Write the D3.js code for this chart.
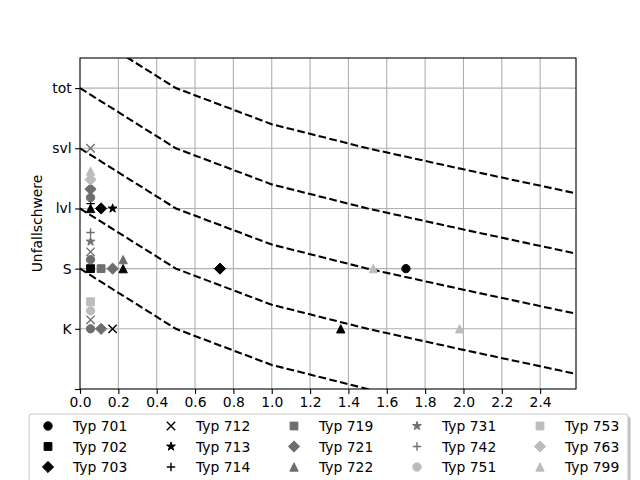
<!DOCTYPE html>
<html>
<head>
<meta charset="utf-8">
<script src="https://cdn.jsdelivr.net/npm/d3@7"></script>
<style>
  html, body { margin: 0; padding: 0; background: #fff; }
  svg { display: block; }
  text { font-family: "DejaVu Sans", sans-serif; }
</style>
</head>
<body>
<svg id="chart" width="640" height="480"></svg>
<script>
// ---------- data ----------
const yTickLabels = ["", "K", "S", "lvl", "svl", "tot"];
const xTicks = [0, 0.2, 0.4, 0.6, 0.8, 1.0, 1.2, 1.4, 1.6, 1.8, 2.0, 2.2, 2.4];

// dashed boundary curves: start level and common drop profile
const curveStarts = [6, 5, 4, 3, 2];
const curveX    = [0, 0.5, 1.0, 1.5, 2.0, 2.5, 3.0];
const curveDrop = [0, 1.0, 1.6, 2.0, 2.35, 2.69, 3.03];

// series (name, marker, shade) and points
const seriesNames   = ["Typ 701","Typ 702","Typ 703","Typ 711","Typ 712","Typ 713","Typ 714",
                       "Typ 715","Typ 719","Typ 721","Typ 722","Typ 723","Typ 731","Typ 742",
                       "Typ 751","Typ 753","Typ 763","Typ 799"];
const seriesMarkers = ["o","s","D","^","x","*","+",
                       "o","s","D","^","x","*","+",
                       "o","s","D","^"];
const seriesShades  = ["k","k","k","k","k","k","k",
                       "g","g","g","g","g","g","g",
                       "l","l","l","l"];
const typ701 = [[1.70, 2]];
const typ702 = [[0.055, 2]];
const typ703 = [[0.11, 3], [0.73, 2]];
const typ711 = [[0.055, 3], [0.225, 2], [1.36, 1]];
const typ712 = [[0.17, 1]];
const typ713 = [[0.17, 3]];
const typ714 = [[0.055, 3.08]];
const typ715 = [[0.055, 3.18], [0.055, 2.15], [0.055, 1]];
const typ719 = [[0.11, 2]];
const typ721 = [[0.055, 3.32], [0.17, 2], [0.11, 1]];
const typ722 = [[0.225, 2.15]];
const typ723 = [[0.055, 4], [0.055, 2.28], [0.055, 1.15]];
const typ731 = [[0.055, 2.45]];
const typ742 = [[0.055, 2.6]];
const typ751 = [[0.055, 1.3]];
const typ753 = [[0.055, 1.45]];
const typ763 = [[0.055, 3.48]];
const typ799 = [[0.055, 3.62], [1.53, 2], [1.98, 1]];
const seriesPoints = [typ701, typ702, typ703, typ711, typ712, typ713, typ714,
                      typ715, typ719, typ721, typ722, typ723, typ731, typ742,
                      typ751, typ753, typ763, typ799];

// ---------- layout ----------
const shadeColor = {k: "#000000", g: "#6e6e6e", l: "#bcbcbc"};
const L = 80, R = 576, T = 58, B = 389;
const svg = d3.select("#chart");
const x = d3.scaleLinear().domain([0, 2.587]).range([L, R]);
const y = d3.scaleLinear().domain([0, 5.5]).range([B, T]);

// grid
const grid = svg.append("g");
grid.selectAll("line.vx").data(xTicks.slice(1)).enter().append("line")
  .attr("x1", d => x(d)).attr("x2", d => x(d)).attr("y1", T).attr("y2", B)
  .attr("stroke", "#b0b0b0").attr("stroke-width", 1.1);
grid.selectAll("line.hy").data(d3.range(1, 6)).enter().append("line")
  .attr("x1", L).attr("x2", R).attr("y1", d => y(d)).attr("y2", d => y(d))
  .attr("stroke", "#b0b0b0").attr("stroke-width", 1.1);

// clip
svg.append("defs").append("clipPath").attr("id", "clip")
  .append("rect").attr("x", L).attr("y", T).attr("width", R - L).attr("height", B - T);

// dashed curves
const lineGen = d3.line().x(d => x(d[0])).y(d => y(d[1]));
svg.append("g").attr("clip-path", "url(#clip)")
  .selectAll("path").data(curveStarts).enter().append("path")
  .attr("d", s => lineGen(curveX.map((cx, i) => [cx, s - curveDrop[i]])))
  .attr("fill", "none").attr("stroke", "#000").attr("stroke-width", 2.08)
  .attr("stroke-dasharray", "7.7,3.3");

// marker paths
const ms = 8.33;
function markerPath(m) {
  const h = ms / 2;
  switch (m) {
    case "o": return d3.symbol(d3.symbolCircle, Math.PI * h * h)();
    case "s": { const a = 3.9; return `M${-a},${-a}L${a},${-a}L${a},${a}L${-a},${a}Z`; }
    case "D": { const a = h * Math.SQRT2 * 0.95; return `M0,${-a}L${a},0L0,${a}L${-a},0Z`; }
    case "^": return `M0,${-h}L${h},${h}L${-h},${h}Z`;
    case "x": return `M${-h},${-h}L${h},${h}M${-h},${h}L${h},${-h}`;
    case "+": return `M${-h},0L${h},0M0,${-h}L0,${h}`;
    case "*": {
      let p = "";
      const ro = h * 1.1, ri = ro * 0.382;
      for (let i = 0; i < 10; i++) {
        const r = i % 2 ? ri : ro;
        const ang = -Math.PI / 2 + i * Math.PI / 5;
        p += (i ? "L" : "M") + (r * Math.cos(ang)).toFixed(2) + "," + (r * Math.sin(ang)).toFixed(2);
      }
      return p + "Z";
    }
  }
}
function styleMarker(sel, m, c) {
  if (m === "x" || m === "+") {
    sel.attr("fill", "none").attr("stroke", c).attr("stroke-width", 1.4);
  } else {
    sel.attr("fill", c).attr("stroke", c).attr("stroke-width", 1);
  }
}

// points
const pts = svg.append("g").attr("clip-path", "url(#clip)");
seriesNames.forEach((name, i) => {
  const m = seriesMarkers[i], c = shadeColor[seriesShades[i]];
  const sel = pts.append("g").selectAll("path").data(seriesPoints[i]).enter().append("path")
    .attr("d", markerPath(m))
    .attr("transform", d => `translate(${x(d[0])},${y(d[1])})`);
  styleMarker(sel, m, c);
});

// axes
const xAxis = svg.append("g").attr("transform", `translate(0,${B})`)
  .call(d3.axisBottom(x).tickValues(xTicks).tickFormat(d3.format(".1f")).tickSizeOuter(0).tickSize(4.9).tickPadding(3.5));
const yAxis = svg.append("g").attr("transform", `translate(${L},0)`)
  .call(d3.axisLeft(y).tickValues(d3.range(0, 6)).tickFormat(d => yTickLabels[d]).tickSizeOuter(0).tickSize(4.9).tickPadding(3.5));
[xAxis, yAxis].forEach(a => {
  a.select(".domain").remove();
  a.selectAll(".tick line").attr("stroke", "#000").attr("stroke-width", 1.1);
  a.selectAll(".tick text").attr("font-size", "13.9px").attr("fill", "#000")
    .attr("font-family", "DejaVu Sans, sans-serif");
});
// frame
svg.append("rect").attr("x", L).attr("y", T).attr("width", R - L).attr("height", B - T)
  .attr("fill", "none").attr("stroke", "#000").attr("stroke-width", 1.1);

// y label
svg.append("text").attr("transform", `translate(42,${(T + B) / 2}) rotate(-90)`)
  .attr("text-anchor", "middle").attr("font-size", "13.9px").text("Unfallschwere");

// legend (its fourth row lies below the visible window, as in the reference)
const ncol = 5;
const nrows = Math.floor(seriesNames.length / ncol), nlarge = seriesNames.length % ncol;
const rowsPerCol = d3.range(ncol).map(c => c < nlarge ? nrows + 1 : nrows);
const lg = svg.append("g");
const lgX = 29, lgY = 414, lgW = 599, lgH = 86;
lg.append("rect").attr("x", lgX + 2.5).attr("y", lgY + 2.5).attr("width", lgW).attr("height", lgH)
  .attr("rx", 3).attr("fill", "#808080").attr("opacity", 0.5);
lg.append("rect").attr("x", lgX).attr("y", lgY).attr("width", lgW).attr("height", lgH)
  .attr("rx", 3).attr("fill", "#fff").attr("stroke", "#cccccc").attr("stroke-width", 1.1);
let idx = 0;
rowsPerCol.forEach((nr, c) => {
  for (let r = 0; r < nr; r++, idx++) {
    const mx = 48 + c * 123, my = 426 + r * 20.5;
    if (my > 480) continue; // outside the 640x480 window
    const m = seriesMarkers[idx], col = shadeColor[seriesShades[idx]];
    const p = lg.append("path").attr("d", markerPath(m)).attr("transform", `translate(${mx},${my})`);
    styleMarker(p, m, col);
    lg.append("text").attr("x", mx + 25).attr("y", my).attr("dy", "0.36em")
      .attr("font-size", "13.9px").text(seriesNames[idx]);
  }
});
</script>
</body>
</html>
